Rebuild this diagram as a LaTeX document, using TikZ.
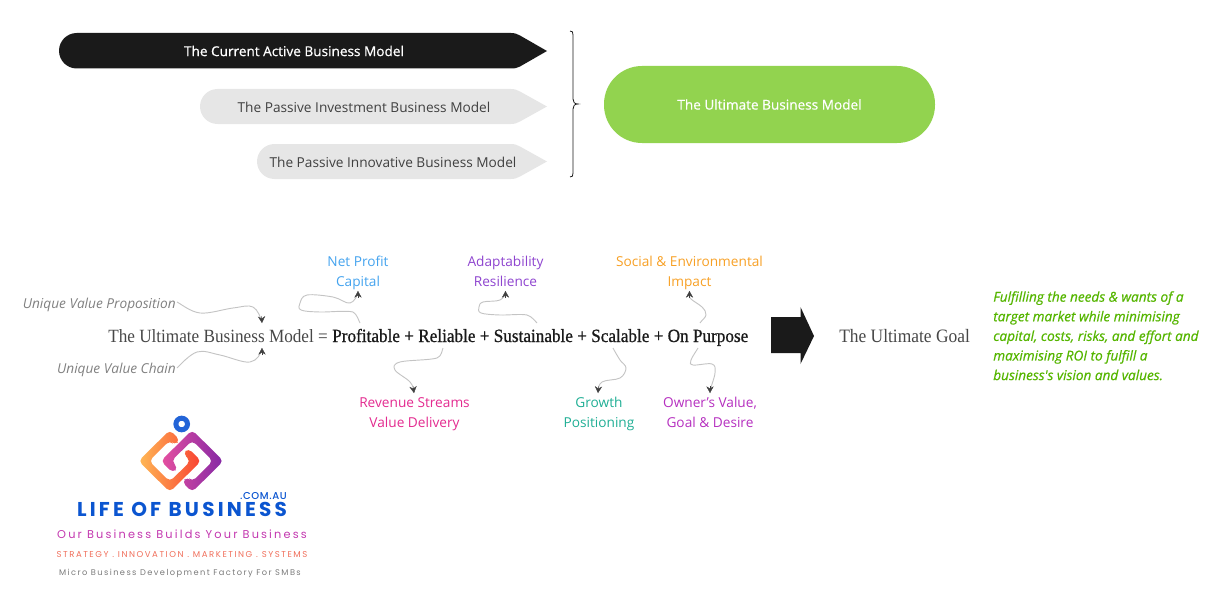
\documentclass[tikz,border=0pt]{standalone}
\usepackage{fontspec}
\setmainfont{Open Sans}
\newfontfamily\osemi[FakeBold=0.6]{Open Sans}
\newfontfamily\ser[FakeStretch=0.92]{Liberation Serif}
\newfontfamily\serb[FakeStretch=0.92,FakeBold=0.8]{Liberation Serif}
\newfontfamily\logob[LetterSpace=16]{Poppins Bold}
\newfontfamily\logoc[LetterSpace=6]{Poppins Medium}
\newfontfamily\logos[LetterSpace=19]{Poppins}
\newfontfamily\logom[LetterSpace=17]{Poppins}
\newfontfamily\logot[LetterSpace=18]{Poppins}
\definecolor{ink}{HTML}{1A1A1A}
\definecolor{pale}{HTML}{E6E6E6}
\definecolor{leaf}{HTML}{92D34F}
\definecolor{note}{HTML}{55B500}
\definecolor{unique}{HTML}{808080}
\definecolor{cnet}{HTML}{44A3EE}
\definecolor{cada}{HTML}{8E44CF}
\definecolor{csoc}{HTML}{F7A025}
\definecolor{crev}{HTML}{E32A8F}
\definecolor{cgro}{HTML}{1FAE94}
\definecolor{cown}{HTML}{B52FBF}
\definecolor{lblue}{HTML}{0B55D0}
\definecolor{wire}{HTML}{C4C4C4}
\definecolor{tipc}{HTML}{404040}
\usetikzlibrary{arrows.meta}
\tikzset{
  fs/.style={font=\fontsize{10.25}{14.8}\selectfont},
  lab/.style={fs,align=center,inner sep=0pt},
  link/.style={draw=wire,line width=0.7pt},
  linktip/.style={draw=tipc,line width=0.3pt,-{Stealth[length=5pt,width=5.5pt]}},
  ringa/.style={rounded corners=3.4pt,left color={rgb,255:red,255;green,185;blue,85},right color={rgb,255:red,248;green,65;blue,50},draw=none},
  ringb/.style={rounded corners=3.4pt,left color={rgb,255:red,230;green,80;blue,160},right color={rgb,255:red,132;green,40;blue,165},draw=none},
}
\begin{document}
\begin{tikzpicture}[x=0.75pt,y=-0.75pt]
\useasboundingbox (0,0) rectangle (1214,610);
% top arrows
\fill[ink] (76.75,33) -- (511,33) .. controls (515,33) and (517,34) .. (520,35.5) -- (547,51) -- (520,66.5) .. controls (517,68) and (515,68.5) .. (511,68.5) -- (76.75,68.5) arc[start angle=90,end angle=270,radius=17.75] -- cycle;
\fill[pale] (217.5,89) -- (511,89) .. controls (515,89) and (517,90) .. (520,91.5) -- (547,106.5) -- (520,121.5) .. controls (517,123) and (515,124) .. (511,124) -- (217.5,124) arc[start angle=90,end angle=270,radius=17.5] -- cycle;
\fill[pale] (274.5,144) -- (511,144) .. controls (515,144) and (517,145) .. (520,146.5) -- (547,161.5) -- (520,176.5) .. controls (517,178) and (515,179) .. (511,179) -- (274.5,179) arc[start angle=90,end angle=270,radius=17.5] -- cycle;
\node[lab,text=white] (active) at (294,51) {\osemi\fontsize{10.2}{14}\selectfont The Current Active Business Model};
\node[lab,text=black!75] (passinv) at (364,107) {The Passive Investment Business Model};
\node[lab,text=black!75] (passinn) at (393,162) {The Passive Innovative Business Model};
% brace
\draw[ink,line width=0.6pt] (570,31) .. controls (572.5,31) and (573,32) .. (573,35) -- (573,99) .. controls (573,102) and (574.5,104) .. (578,104) .. controls (574.5,104) and (573,106) .. (573,109) -- (573,173) .. controls (573,176) and (572.5,177) .. (570,177);
% green
\node[fill=leaf,rounded corners=28.5pt,minimum width=248.25pt,minimum height=57.75pt,inner sep=0pt,text=white] (ultimate) at (769.5,104.5) {\osemi\fontsize{10.2}{14}\selectfont The Ultimate Business Model};
% equation
\node[anchor=base west,inner sep=0pt,text=black!72] (eqleft) at (108,342) {\ser\fontsize{14}{17}\selectfont The Ultimate Business Model =};
\node[anchor=base west,inner sep=0pt,text=ink] (eqright) at (332,342) {\serb\fontsize{14}{17}\selectfont Profitable + Reliable + Sustainable + Scalable + On Purpose};
\node[anchor=base west,inner sep=0pt,text=black!72] (goal) at (839,342) {\ser\fontsize{14.2}{17}\selectfont The Ultimate Goal};
% big arrow
\fill[ink] (771,317) -- (800.5,317) -- (800.5,307) -- (814,336) -- (800.5,364) -- (800.5,353) -- (771,353) -- cycle;
% labels
\node[lab,text=unique,anchor=east] (uvp) at (176,305) {\itshape Unique Value Proposition};
\node[lab,text=unique,anchor=east] (uvc) at (176,370) {\itshape Unique Value Chain};
\node[lab,text=cnet] (net) at (358,273) {Net Profit\\Capital};
\node[lab,text=cada] (ada) at (505.5,271.5) {Adaptability\\Resilience};
\node[lab,text=csoc] (soc) at (689.5,273) {Social \& Environmental\\Impact};
\node[lab,text=crev] (rev) at (414.5,414) {Revenue Streams\\Value Delivery};
\node[lab,text=cgro] (gro) at (599,414) {Growth\\Positioning};
\node[lab,text=cown] (own) at (710,412.5) {Owner's Value,\\Goal \& Desire};
\node[lab,text=note,anchor=north west,align=left,font=\itshape\fontsize{10.2}{14.7}\selectfont] (why) at (993,291) {\osemi\itshape Fulfilling the needs \& wants of a\\\osemi\itshape target market while minimising\\\osemi\itshape capital, costs, risks, and effort and\\\osemi\itshape maximising ROI to fulfill a\\\osemi\itshape business's vision and values.};
% connector anchor points on the equation
\coordinate (upa) at (262,323);
\coordinate (upb) at (262,348);
\coordinate (wprof) at (360,323);
\coordinate (wrel) at (443,348);
\coordinate (wsus) at (537,323);
\coordinate (wsca) at (613,348);
\coordinate (wpa) at (700,323);
\coordinate (wpb) at (698,348);
\coordinate (tnet) at (358,291);
\coordinate (tada) at (505.5,291);
\coordinate (tsoc) at (689.5,291);
\coordinate (trev) at (414,393);
\coordinate (tgro) at (598,393);
\coordinate (town) at (710,393);
\coordinate (suvp) at (177,302);
\coordinate (suvc) at (177,368);
\draw[link] (suvp) .. controls (181,304) and (190.7,312) .. (200,313) .. controls (209.3,314) and (224.2,309) .. (233,308) .. controls (241.8,307) and (248.2,304.5) .. (253,307) .. controls (257.8,309.5) and (261,318) .. (upa);
\draw[link] (suvc) .. controls (180,365) and (189.8,354.2) .. (197,352) .. controls (204.2,349.8) and (211.2,353.3) .. (220,355) .. controls (228.8,356.7) and (243,363.2) .. (250,362) .. controls (257,360.8) and (261,354) .. (upb);
\draw[link] (wprof) .. controls (358.8,321) and (357,314) .. (353,312) .. controls (346.3,310.2) and (328.7,312.3) .. (320,312) .. controls (311.3,311.7) and (304.3,311.5) .. (301,310) .. controls (297.7,308.5) and (299,305.5) .. (300,303) .. controls (301,300.5) and (301.5,296) .. (307,295) .. controls (312.5,294) and (325.8,295.7) .. (333,297) .. controls (340.2,298.3) and (345.8,304) .. (350,303) .. controls (354.2,302) and (357.5,296) .. (tnet);
\draw[link] (wrel) .. controls (442,350) and (442,356) .. (437,358) .. controls (429.8,360.3) and (407,360) .. (400,362) .. controls (393,364) and (393.3,366.7) .. (395,370) .. controls (396.7,373.3) and (406.8,378.2) .. (410,382) .. controls (413.2,385.8) and (414,389) .. (trev);
\draw[link] (wsus) .. controls (535,321) and (532,316.5) .. (527,315) .. controls (520.8,313.7) and (507.7,315.3) .. (500,315) .. controls (492.3,314.7) and (484.5,314.3) .. (481,313) .. controls (477.5,311.7) and (478.7,308.8) .. (479,307) .. controls (479.3,305.2) and (479.5,303.2) .. (483,302) .. controls (486.5,300.8) and (496.3,301.8) .. (500,300) .. controls (503.7,298.2) and (505.5,295) .. (tada);
\draw[link] (wpa) .. controls (701,321) and (705.7,317.7) .. (706,315) .. controls (706.3,312.3) and (704.7,309.8) .. (702,307) .. controls (699.3,304.2) and (692,300.7) .. (690,298) .. controls (688,295.3) and (689.5,293) .. (tsoc);
\draw[link] (wsca) .. controls (614,350) and (617.8,356.7) .. (620,360) .. controls (622.2,363.3) and (626,365) .. (626,368) .. controls (626,371) and (624,375.7) .. (620,378) .. controls (616,380.3) and (605.7,379.5) .. (602,382) .. controls (598.3,384.5) and (598,389) .. (tgro);
\draw[link] (wpb) .. controls (697,350) and (691.8,357.2) .. (691,360) .. controls (690.2,362.8) and (689.5,364.3) .. (693,365) .. controls (696.5,365.7) and (708.3,362.7) .. (712,364) .. controls (715.7,365.3) and (715.3,368.2) .. (715,373) .. controls (714.7,377.8) and (710,388) .. (town);
\draw[linktip] (261.5,316) -- (upa);
\draw[linktip] (262,355) -- (upb);
\draw[linktip] (358,298) -- (tnet);
\draw[linktip] (413,386) -- (trev);
\draw[linktip] (505.5,298) -- (tada);
\draw[linktip] (689.5,298) -- (tsoc);
\draw[linktip] (598.5,386) -- (tgro);
\draw[linktip] (710,386) -- (town);
% logo
\draw[line width=3.75pt,draw={rgb,255:red,35;green,100;blue,215}] (181.7,424) circle[radius=5.8];
\begin{scope}[shift={(181,461)},xscale=.93,yscale=.92,shift={(-181,-461)}]
\path[ringa] (179.83,438.17) -- (169,427.34) -- (135.34,461) -- (169,494.66) -- (202.66,461) -- (188.83,447.17) -- (183.17,452.83) -- (191.34,461) -- (169,483.34) -- (146.66,461) -- (169,438.66) -- (174.17,443.83) -- cycle;
\path[ringb] (172.17,473.83) -- (159.34,461) -- (193,427.34) -- (226.66,461) -- (193,494.66) -- (182.17,483.83) -- (187.83,478.17) -- (193,483.34) -- (215.34,461) -- (193,438.66) -- (170.66,461) -- (177.83,468.17) -- cycle;
\end{scope}
\node[inner sep=0pt,text=lblue,anchor=base east] (com) at (287,499) {\logoc\fontsize{7.5}{8}\selectfont .COM.AU};
\node[inner sep=0pt,text=lblue] (lob) at (182,509) {\logob\fontsize{15}{16}\selectfont LIFE OF BUSINESS};
\node[inner sep=0pt,text={rgb,255:red,195;green,55;blue,175}] (slog) at (182,534.5) {\logos\fontsize{8.5}{10}\selectfont Our Business Builds Your Business};
\node[inner sep=0pt,text={rgb,255:red,240;green,110;blue,90}] (pill) at (182,554.5) {\logot\fontsize{6.4}{8}\selectfont STRATEGY . INNOVATION . MARKETING . SYSTEMS};
\node[inner sep=0pt,text=black!52] (micro) at (180,573) {\logom\fontsize{6.2}{8}\selectfont Micro Business Development Factory For SMBs};
\end{tikzpicture}
\end{document}
